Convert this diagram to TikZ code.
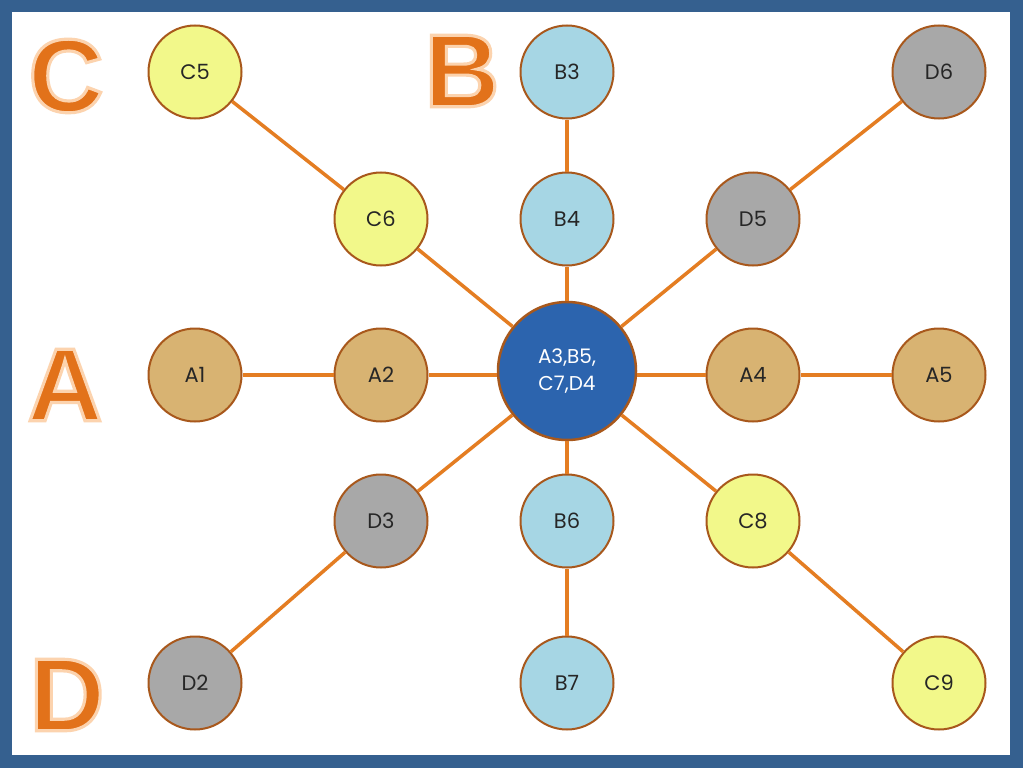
\documentclass[tikz,border=0pt]{standalone}
\usepackage{fontspec}
\setmainfont{Poppins}
\newfontfamily\letterfont[FakeBold=3]{Liberation Sans Bold}
\definecolor{frameblue}{HTML}{35608F}
\definecolor{lineorange}{HTML}{E47D22}
\definecolor{nodebrown}{HTML}{A8581C}
\definecolor{fillyellow}{HTML}{F2F88A}
\definecolor{fillblue}{HTML}{A6D6E4}
\definecolor{filltan}{HTML}{D8B372}
\definecolor{fillgray}{HTML}{A8A8A8}
\definecolor{fillcenter}{HTML}{2C64AE}
\definecolor{letterorange}{HTML}{E2721A}
\newcommand\glowletter[1]{\special{pdf:code 0.988 0.827 0.682 RG}#1}
\tikzset{
  bubble/.style={circle, draw=nodebrown, line width=2pt, minimum size=93pt, inner sep=0pt,
    font=\fontsize{21}{24}\selectfont, text=black!85},
  ynode/.style={bubble, fill=fillyellow},
  bnode/.style={bubble, fill=fillblue},
  tnode/.style={bubble, fill=filltan},
  gnode/.style={bubble, fill=fillgray},
  cnode/.style={circle, draw=nodebrown, line width=2.5pt, minimum size=138pt, inner sep=0pt,
    fill=fillcenter, text=white, align=center, font=\fontsize{20}{27}\selectfont},
  link/.style={draw=lineorange, line width=3.5pt},
  bigletter/.style={font=\letterfont\fontsize{104}{104}\selectfont, text=letterorange, inner sep=0pt}
}
\begin{document}
\begin{tikzpicture}[x=1pt,y=-1pt]
\useasboundingbox (0,0) rectangle (1023,768);
\fill[frameblue] (0,0) rectangle (1023,768);
\fill[white] (12,12) rectangle (1010,755);

\node[cnode] (ctr) at (567,371) {A3,B5,\\C7,D4};

\node[ynode] (c5) at (195,72) {C5};
\node[bnode] (b3) at (567,72) {B3};
\node[gnode] (d6) at (939,72) {D6};
\node[ynode] (c6) at (381,219) {C6};
\node[bnode] (b4) at (567,219) {B4};
\node[gnode] (d5) at (753,219) {D5};
\node[tnode] (a1) at (195,375) {A1};
\node[tnode] (a2) at (381,375) {A2};
\node[tnode] (a4) at (753,375) {A4};
\node[tnode] (a5) at (939,375) {A5};
\node[gnode] (d3) at (381,521) {D3};
\node[bnode] (b6) at (567,521) {B6};
\node[ynode] (c8) at (753,521) {C8};
\node[gnode] (d2) at (195,683) {D2};
\node[bnode] (b7) at (567,683) {B7};
\node[ynode] (c9) at (939,683) {C9};

\draw[link] (c5) -- (c6);
\draw[link] (c6) -- (ctr);
\draw[link] (b3) -- (b4);
\draw[link] (b4) -- (ctr);
\draw[link] (d6) -- (d5);
\draw[link] (d5) -- (ctr);
\draw[link] (a1) -- (a2);
\draw[link] (a2) -- (ctr.west |- a2);
\draw[link] (ctr.east |- a4) -- (a4);
\draw[link] (a4) -- (a5);
\draw[link] (ctr) -- (d3);
\draw[link] (d3) -- (d2);
\draw[link] (ctr) -- (b6);
\draw[link] (b6) -- (b7);
\draw[link] (ctr) -- (c8);
\draw[link] (c8) -- (c9);

\node[bigletter] (lc) at (66,76) {\glowletter{C}};
\node[bigletter] (lb) at (462,71) {\glowletter{B}};
\node[bigletter] (la) at (65,385) {\glowletter{A}};
\node[bigletter] (ld) at (67,695) {\glowletter{D}};
\end{tikzpicture}
\end{document}
